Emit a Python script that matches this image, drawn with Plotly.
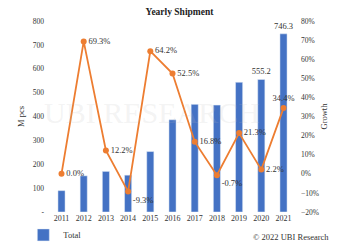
import plotly.graph_objects as go

years = ["2011","2012","2013","2014","2015","2016","2017","2018","2019","2020","2021"]
total = [89.5, 151.5, 170.0, 154.2, 253.2, 386.2, 451.0, 447.9, 543.3, 555.2, 746.3]
total_labels = ["", "", "", "", "", "", "", "", "", "555.2", "746.3"]
growth = [0.0, 69.3, 12.2, -9.3, 64.2, 52.5, 16.8, -0.7, 21.3, 2.2, 34.4]
growth_labels = [f"{g:.1f}%" for g in growth]
growth_pos = ["middle right", "middle right", "middle right", "bottom right", "middle right",
              "middle right", "middle right", "bottom right", "middle right", "middle right", "top center"]

font = "Liberation Serif"
fig = go.Figure()
fig.add_trace(go.Bar(x=years, y=total, name="Total", marker_color="#4472C4",
                     text=total_labels, textposition="outside", cliponaxis=False,
                     constraintext="none",
                     textfont=dict(size=8.5, color="#333"), width=0.32))
fig.add_trace(go.Scatter(x=years, y=growth, yaxis="y2", mode="lines+markers+text",
                         line=dict(color="#ED7D31", width=1.8),
                         marker=dict(color="#ED7D31", size=6),
                         text=growth_labels, textposition=growth_pos,
                         textfont=dict(size=8.5, color="#333"),
                         showlegend=False, cliponaxis=False))

fig.update_layout(
    width=359, height=250,
    margin=dict(l=45, r=59, t=21, b=38, autoexpand=False),
    paper_bgcolor="white", plot_bgcolor="white",
    font=dict(family=font, size=9, color="#333"),
    title=dict(text="<b>Yearly Shipment</b>", xref="container", x=0.5, xanchor="center",
               y=0.955, yanchor="middle",
               font=dict(family=font, size=9.5, color="#222")),
    xaxis=dict(showgrid=False, showline=False, ticks="", tickfont=dict(size=8), automargin=False),
    yaxis=dict(range=[0, 800], tickvals=[0,100,200,300,400,500,600,700,800],
               ticktext=["-","100","200","300","400","500","600","700","800"],
               showgrid=False, zeroline=False, tickfont=dict(size=7.5), automargin=False,
               title=dict(text="M pcs", font=dict(size=8.5), standoff=6)),
    yaxis2=dict(range=[-20, 80], overlaying="y", side="right", dtick=10, ticksuffix="%",
                showgrid=False, zeroline=False, tickfont=dict(size=7.5), automargin=False,
                title=dict(text="Growth", font=dict(size=8.5), standoff=3)),
    legend=dict(orientation="h", x=-0.085, xanchor="left", y=-0.12, yanchor="middle",
                font=dict(size=8.5), bgcolor="rgba(0,0,0,0)"),
    annotations=[
        dict(text="© 2022 UBI Research", xref="paper", yref="paper", x=1.12, y=-0.13,
             xanchor="right", yanchor="middle", showarrow=False, font=dict(size=8.5, color="#333")),
        dict(text="UBI RESEARCH", xref="paper", yref="paper", x=0.42, y=0.52,
             showarrow=False, font=dict(size=30, color="rgba(190,190,190,0.18)")),
    ],
)
fig.write_html("out.html")
